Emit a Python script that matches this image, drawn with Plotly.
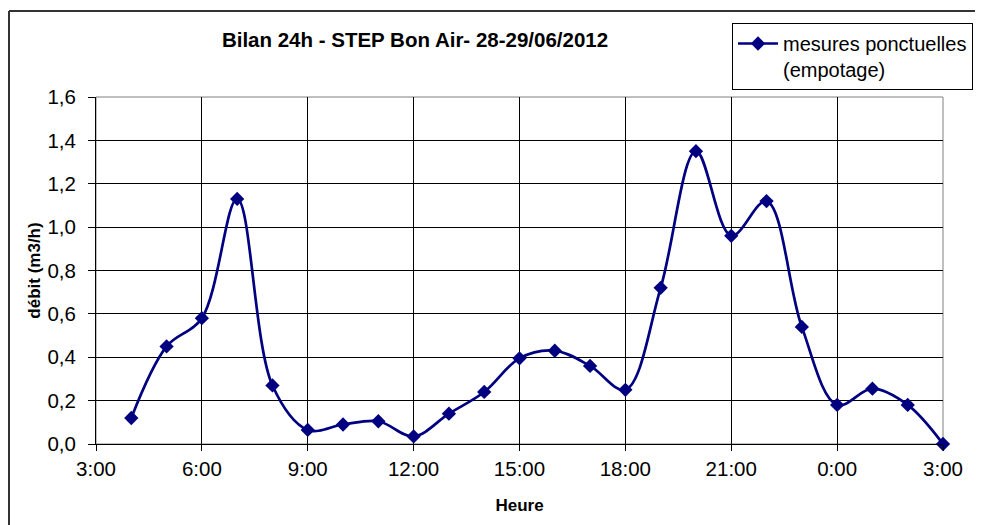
import plotly.graph_objects as go

# Data
hours = [4, 5, 6, 7, 8, 9, 10, 11, 12, 13, 14, 15, 16, 17, 18, 19, 20, 21, 22, 23, 24, 25, 26, 27]
debit = [0.12, 0.45, 0.58, 1.13, 0.27, 0.065, 0.09, 0.105, 0.035, 0.14, 0.24, 0.395, 0.43, 0.36,
         0.25, 0.72, 1.35, 0.96, 1.12, 0.54, 0.18, 0.255, 0.18, 0.0]
tick_vals = [3, 6, 9, 12, 15, 18, 21, 24, 27]
tick_text = ["3:00", "6:00", "9:00", "12:00", "15:00", "18:00", "21:00", "0:00", "3:00"]
series_name = "mesures ponctuelles<br>(empotage)"
title_text = "Bilan 24h - STEP Bon Air- 28-29/06/2012"

# The page body adds an 8px offset; lay out in screen coordinates minus that offset
OFF = 8
W, H = 983 - OFF, 525 - OFF
L, T = 96 - OFF, 97 - OFF
pw, ph = 847, 347
R, B = W - L - pw, H - T - ph


def px(x_screen):
    return (x_screen - OFF - L) / pw


def py(y_screen):
    return (T + ph - (y_screen - OFF)) / ph


NAVY = "#000080"
FONT = "Liberation Sans, Arial, sans-serif"

fig = go.Figure()
fig.add_trace(go.Scatter(
    x=hours, y=debit, name=series_name, mode="lines+markers",
    line=dict(color=NAVY, width=2.7, shape="spline", smoothing=1.0),
    marker=dict(symbol="diamond", size=11, color=NAVY),
    cliponaxis=False,
))

fig.update_layout(
    width=W, height=H,
    margin=dict(l=L, r=R, t=T, b=B, autoexpand=False),
    paper_bgcolor="white", plot_bgcolor="white",
    separators=", ",
    font=dict(family=FONT, size=20.5, color="black"),
    title=dict(text="<b>" + title_text + "</b>", x=(415 - OFF) / W, xanchor="center",
               y=1 - (40 - OFF) / H, yanchor="middle", xref="container", yref="container",
               font=dict(family=FONT, size=20.5, color="black")),
    showlegend=True,
    legend=dict(x=px(732), y=py(23), xanchor="left", yanchor="top",
                bordercolor="black", borderwidth=1, bgcolor="white",
                font=dict(family=FONT, size=20, color="black"), valign="top",
                itemwidth=40, tracegroupgap=0),
    xaxis=dict(range=[3, 27], tickmode="array", tickvals=tick_vals, ticktext=tick_text,
               showgrid=True, gridcolor="black", gridwidth=1,
               showline=True, linecolor="black", linewidth=1,
               ticks="outside", ticklen=6, tickcolor="black",
               zeroline=False, fixedrange=True, automargin=False,
               title=dict(text="<b>Heure</b>", font=dict(family=FONT, size=17), standoff=20)),
    yaxis=dict(range=[0, 1.6], dtick=0.2, tick0=0, tickformat=".1f",
               showgrid=True, gridcolor="black", gridwidth=1,
               showline=True, linecolor="black", linewidth=1,
               ticks="outside", ticklen=7, tickcolor="black", ticklabelstandoff=8,
               zeroline=False, fixedrange=True, automargin=False,
               title=dict(text="<b>débit (m3/h)</b>", font=dict(family=FONT, size=17), standoff=2)),
)

# Plot-area frame (grey top/right edges)
fig.add_shape(type="rect", xref="paper", yref="paper", x0=0, y0=0, x1=1, y1=1,
              line=dict(color="#808080", width=1), layer="below")
# Outer chart-area border (left and top visible)
fig.add_shape(type="line", xref="paper", yref="paper", x0=px(9), x1=px(9), y0=py(540), y1=py(11),
              line=dict(color="#333333", width=2))
fig.add_shape(type="line", xref="paper", yref="paper", x0=px(9), x1=px(1000), y0=py(11), y1=py(11),
              line=dict(color="#333333", width=2))

fig.write_html("out.html")
